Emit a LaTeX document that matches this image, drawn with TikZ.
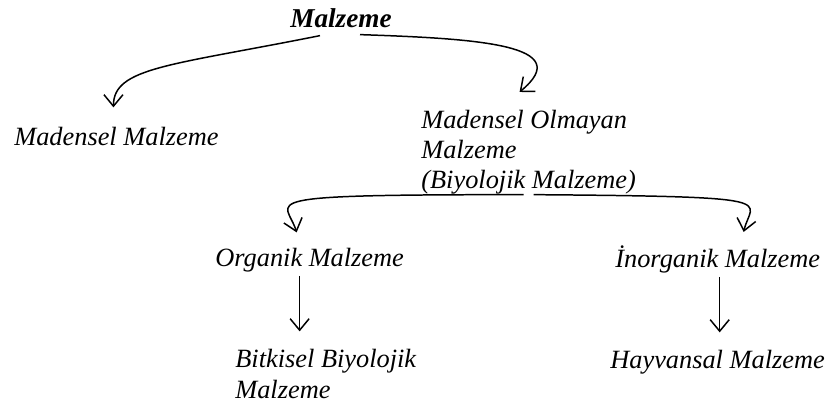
\documentclass[tikz,border=0pt]{standalone}
\usepackage{fontspec}
\setmainfont{Liberation Serif}
\usetikzlibrary{arrows.meta,positioning,calc}

\begin{document}
\begin{tikzpicture}[x=0.02cm, y=0.02cm,
    lbl/.style={inner sep=0pt, font=\itshape\fontsize{15}{17.07}\selectfont},
    arr/.style={-{Straight Barb[length=2.3mm,width=3.8mm]}, line width=0.85pt}]
                \useasboundingbox (0,0) rectangle (835,406);
                % Top
                \node[lbl, font=\bfseries\itshape\fontsize{15.5}{17.07}\selectfont, anchor=base] (top) at (341,378) {Malzeme};
                % Second level
                \node[lbl, anchor=base west] (mad) at (14,260) {Madensel Malzeme};
                \node[lbl, anchor=north west, align=left] (olm) at (421,296) {Madensel Olmayan\\Malzeme\\(Biyolojik Malzeme)};
                % Third level
                \node[lbl, anchor=base west] (org) at (215,139) {Organik Malzeme};
                \node[lbl, anchor=base west] (ino) at (615,138) {İnorganik Malzeme};
                % Bottom
                \node[lbl, anchor=base west] (bit) at (235,39) {Bitkisel Biyolojik};
                \node[lbl, anchor=base west] (bit2) at (235,8) {Malzeme};
                \node[lbl, anchor=base west] (hay) at (610,38) {Hayvansal Malzeme};
                % Arrows
                \draw[arr] ([shift={(-21,-7)}]top.south) .. controls +(-150,-30) and +(0,40) .. ([shift={(-3,20)}]mad.north);
                \draw[arr] ([shift={(19,-6)}]top.south) .. controls +(120,-4) and +(57,47) .. ([shift={(-9,18)}]olm.north);
                \draw[arr] ([shift={(-5,0)}]olm.south) .. controls +(-282,0) and +(-10,33) .. ([shift={(-13,16)}]org.north);
                \draw[arr] ([shift={(5,0)}]olm.south) .. controls +(258,-2) and +(7,32) .. ([shift={(26,14)}]ino.north);
                \draw[arr] ([shift={(-10,-3)}]org.south) -- ([shift={(-10,17)}]org.south |- bit.north);
                \draw[arr] ([shift={(2,-3)}]ino.south) -- ([shift={(2,17)}]ino.south |- hay.north);
\end{tikzpicture}
\end{document}
